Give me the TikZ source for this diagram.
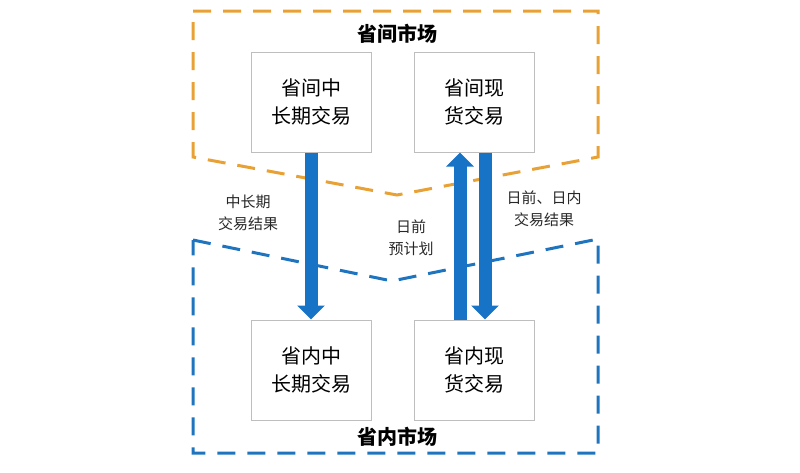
\documentclass[tikz,border=0pt]{standalone}
\usepackage{fontspec}
\setmainfont{Noto Sans CJK SC}
\usetikzlibrary{arrows.meta}

\definecolor{marketorange}{RGB}{232,161,52}
\definecolor{marketblue}{RGB}{30,116,190}
\definecolor{arrowblue}{RGB}{22,115,198}
\definecolor{boxgray}{RGB}{190,190,190}
\definecolor{labelgray}{RGB}{40,40,40}

\tikzset{
  box/.style={draw=boxgray, fill=white, line width=1pt, minimum width=120pt,
    minimum height=100pt, align=center, font=\fontsize{20}{28}\selectfont},
  flow/.style={line width=13pt, draw=arrowblue, -{Triangle[width=27pt,length=14pt]}},
  note/.style={align=center, text=labelgray, font=\fontsize{15}{22}\selectfont},
  market/.style={line width=3pt, dash pattern=on 18pt off 12pt},
  mtitle/.style={font=\fontsize{20}{24}\selectfont\bfseries}
}

\begin{document}
\begin{tikzpicture}[x=1pt, y=-1pt]

\useasboundingbox (0,0) rectangle (800,472);

% 矢印のずらし量
\def\up{-14}     % 上向き
\def\dn{11}      % 下向き

%========================
% 省间 / 省内 の枠
%========================
\draw[market, draw=marketorange]
    (193,11) -- (598,11) -- (598,157) -- (397,195) -- (193,157) -- cycle;
\draw[market, draw=marketblue]
    (193,240) -- (392,281) -- (598,239) -- (598,453) -- (193,453) -- cycle;

\node[mtitle] (intertitle) at (397,34) {省间市场};
\node[mtitle] (intratitle) at (397,437) {省内市场};

%========================
% 交易ボックス
%========================
\node[box] (interlong) at (311,102) {省间中\\长期交易};
\node[box] (interspot) at (474,102) {省间现\\货交易};
\node[box] (intralong) at (311,370) {省内中\\长期交易};
\node[box] (intraspot) at (474,370) {省内现\\货交易};

%========================
% 結果・計画の流れ
%========================
\draw[flow] (interlong.south) -- (intralong.north);
\draw[flow] ([xshift=\up]intraspot.north) -- ([xshift=\up]interspot.south);
\draw[flow] ([xshift=\dn]interspot.south) -- ([xshift=\dn]intraspot.north);

\node[note] (longresult) at (248,213) {中长期\\交易结果};
\node[note] (dayplan) at (411,238) {日前\\预计划};
\node[note] (spotresult) at (544,209) {日前、日内\\交易结果};

\end{tikzpicture}
\end{document}
